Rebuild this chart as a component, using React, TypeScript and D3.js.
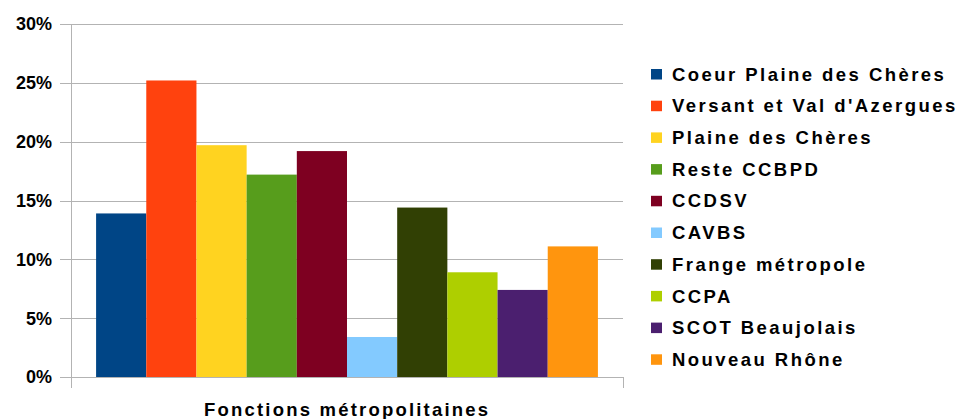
import React from "react";
import * as d3 from "d3";

const categories = ["Fonctions métropolitaines"];
const seriesNames = [
  "Coeur Plaine des Chères",
  "Versant et Val d'Azergues",
  "Plaine des Chères",
  "Reste CCBPD",
  "CCDSV",
  "CAVBS",
  "Frange métropole",
  "CCPA",
  "SCOT Beaujolais",
  "Nouveau Rhône",
];
const seriesValues = [0.139, 0.252, 0.197, 0.172, 0.192, 0.034, 0.144, 0.089, 0.074, 0.111];
const seriesColors = [
  "#004586", "#ff420e", "#ffd320", "#579d1c", "#7e0021",
  "#83caff", "#314004", "#aecf00", "#4b1f6f", "#ff950e",
];
const yTicks = [0, 0.05, 0.1, 0.15, 0.2, 0.25, 0.3];

const W = 961, H = 419;
const plot = { left: 71, right: 623, top: 24, bottom: 377 };
const font = "'Liberation Sans', Arial, sans-serif";

export default function App() {
  const y = d3.scaleLinear().domain([0, 0.3]).range([plot.bottom, plot.top]);
  const x0 = d3.scaleBand().domain(categories).range([plot.left, plot.right]).paddingInner(0).paddingOuter(0.05);
  const x1 = d3.scaleBand().domain(seriesNames).range([0, x0.bandwidth()]).padding(0);
  const fmt = d3.format(".0%");
  const grid = "#b3b3b3";
  return (
    <svg width={W} height={H} style={{ position: "absolute", left: 0, top: 0 }}>
      <rect width={W} height={H} fill="#fff" />
      {yTicks.map((t) => (
        <g key={t}>
          <line x1={plot.left - 11} x2={plot.right} y1={Math.round(y(t)) + 0.5} y2={Math.round(y(t)) + 0.5} stroke={grid} strokeWidth={1} />
          <text x={52} y={y(t)} dy="0.36em" textAnchor="end" fontFamily={font} fontWeight="bold" fontSize={18} fill="#000">
            {fmt(t)}
          </text>
        </g>
      ))}
      <line x1={plot.left + 0.5} x2={plot.left + 0.5} y1={plot.top} y2={plot.bottom + 11} stroke={grid} />
      <line x1={plot.right + 0.5} x2={plot.right + 0.5} y1={plot.bottom} y2={plot.bottom + 11} stroke={grid} />
      {categories.map((c) => (
        <g key={c} transform={`translate(${x0(c)},0)`}>
          {seriesNames.map((s, i) => (
            <rect key={s} x={x1(s)} y={y(seriesValues[i])} width={x1.bandwidth()} height={plot.bottom - y(seriesValues[i])} fill={seriesColors[i]} />
          ))}
        </g>
      ))}
      <line x1={plot.left} x2={plot.right} y1={plot.bottom + 0.5} y2={plot.bottom + 0.5} stroke={grid} />
      {categories.map((c) => (
        <text key={c} x={204} y={416} textAnchor="start" fontFamily={font} fontWeight="bold" fontSize={18.5} letterSpacing={2.2} fill="#000">
          {c}
        </text>
      ))}
      {seriesNames.map((s, i) => {
        const cy = 74 + i * 31.7;
        return (
          <g key={s}>
            <rect x={651} y={cy - 5} width={11} height={10.5} fill={seriesColors[i]} />
            <text x={672} y={cy} dy="0.36em" fontFamily={font} fontWeight="bold" fontSize={18.5} letterSpacing={2.45} fill="#000">
              {s}
            </text>
          </g>
        );
      })}
    </svg>
  );
}
